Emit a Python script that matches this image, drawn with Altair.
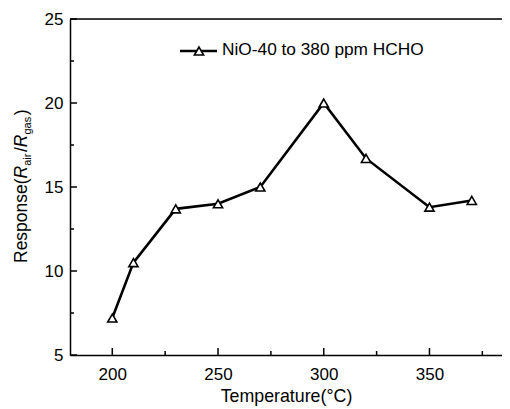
import altair as alt
import pandas as pd

temps = [200, 210, 230, 250, 270, 300, 320, 350, 370]
response = [7.2, 10.5, 13.7, 14.0, 15.0, 20.0, 16.7, 13.8, 14.2]
x_major = [200, 250, 300, 350]
x_minor = [225, 275, 325, 375]
y_major = [5, 10, 15, 20, 25]
y_minor = [7.5, 12.5, 17.5, 22.5]
legend_label = "NiO-40 to 380 ppm HCHO"
x_title = "Temperature(°C)"

FONT = "Liberation Sans"
W, H = 432, 336
XDOM = [180, 384.3]
YDOM = [5, 25]

xs = alt.Scale(domain=XDOM, nice=False, zero=False)
ys = alt.Scale(domain=YDOM, nice=False, zero=False)

xaxis = alt.Axis(values=x_major, ticks=False, grid=False, labelPadding=11,
                 labelFontSize=17, labelFont=FONT, labelColor="black",
                 domainColor="black", domainWidth=1.5,
                 title=x_title, titleFont=FONT, titleFontSize=17.8,
                 titleFontWeight="normal", titleColor="black", titlePadding=5.5)
yaxis = alt.Axis(values=y_major, ticks=False, grid=False, labelPadding=7,
                 labelFontSize=17, labelFont=FONT, labelColor="black",
                 domainColor="black", domainWidth=1.5, title=None)

df = pd.DataFrame({"T": temps, "R": response})

line = alt.Chart(df).mark_line(color="black", strokeWidth=2.6).encode(
    x=alt.X("T:Q", scale=xs, axis=xaxis),
    y=alt.Y("R:Q", scale=ys, axis=yaxis),
)
pts = alt.Chart(df).mark_point(shape="triangle-up", filled=True, fill="white",
                                stroke="black", strokeWidth=1.6, size=85, opacity=1).encode(
    x=alt.X("T:Q", scale=xs, axis=xaxis),
    y=alt.Y("R:Q", scale=ys, axis=yaxis),
)

def xticks(vals, length):
    return alt.Chart(pd.DataFrame({"T": vals})).mark_rule(color="black", strokeWidth=1.5).encode(
        x=alt.X("T:Q", scale=xs, axis=xaxis),
        y=alt.value(H), y2=alt.value(H - length))

def yticks(vals, length):
    return alt.Chart(pd.DataFrame({"R": vals})).mark_rule(color="black", strokeWidth=1.5).encode(
        y=alt.Y("R:Q", scale=ys, axis=yaxis),
        x=alt.value(0), x2=alt.value(length))

top_border = alt.Chart(pd.DataFrame({"a": [0]})).mark_rule(color="black", strokeWidth=1.5).encode(
    x=alt.value(0), x2=alt.value(W + 10), y=alt.value(0))

# legend
leg_line = alt.Chart(pd.DataFrame({"a": [0]})).mark_rule(color="black", strokeWidth=2.6).encode(
    x=alt.value(110), x2=alt.value(147), y=alt.value(32))
leg_pt = alt.Chart(pd.DataFrame({"a": [0]})).mark_point(shape="triangle-up", filled=True, fill="white",
                                                        stroke="black", strokeWidth=1.6, size=85, opacity=1).encode(
    x=alt.value(129), y=alt.value(32))
leg_txt = alt.Chart(pd.DataFrame({"t": [legend_label]})).mark_text(
    align="left", baseline="middle", font=FONT, fontSize=17.3, color="black").encode(
    text="t:N", x=alt.value(152), y=alt.value(31))

# y title pieces (rotated)
pieces = [
    ("Response(", 17.5, "normal", 0),
    ("R", 17.5, "italic", 0),
    ("air", 11, "normal", 4),
    ("/", 17.5, "normal", 0),
    ("R", 17.5, "italic", 0),
    ("gas", 11, "normal", 4),
    (")", 17.5, "normal", 0),
]
em = {"R": .722, "e": .556, "s": .5, "p": .556, "o": .556, "n": .556, "(": .333,
      ")": .333, "a": .556, "i": .222, "r": .333, "/": .278, "g": .556}
ytitle_layers = []
ypos = 244.0
for txt, fs, style, shift in pieces:
    ytitle_layers.append(
        alt.Chart(pd.DataFrame({"t": [txt]})).mark_text(
            align="left", baseline="alphabetic", angle=270, font=FONT,
            fontSize=fs, fontStyle=style, color="black").encode(
            text="t:N", x=alt.value(-43 + shift), y=alt.value(ypos)))
    ypos -= sum(em[c] for c in txt) * fs + (1.5 if fs < 12 else 0)

chart = alt.layer(
    top_border,
    xticks(x_major, 7), xticks(x_minor, 4),
    yticks(y_major, 7), yticks(y_minor, 4),
    line, pts, leg_line, leg_pt, leg_txt, *ytitle_layers,
).properties(
    width=W, height=H,
    padding={"left": 62, "top": 11, "right": 0, "bottom": 56},
    autosize=alt.AutoSizeParams(type="none"),
).configure_view(stroke=None).configure(background="white")

chart.save("out.html", embed_options={"renderer": "svg", "actions": False})
